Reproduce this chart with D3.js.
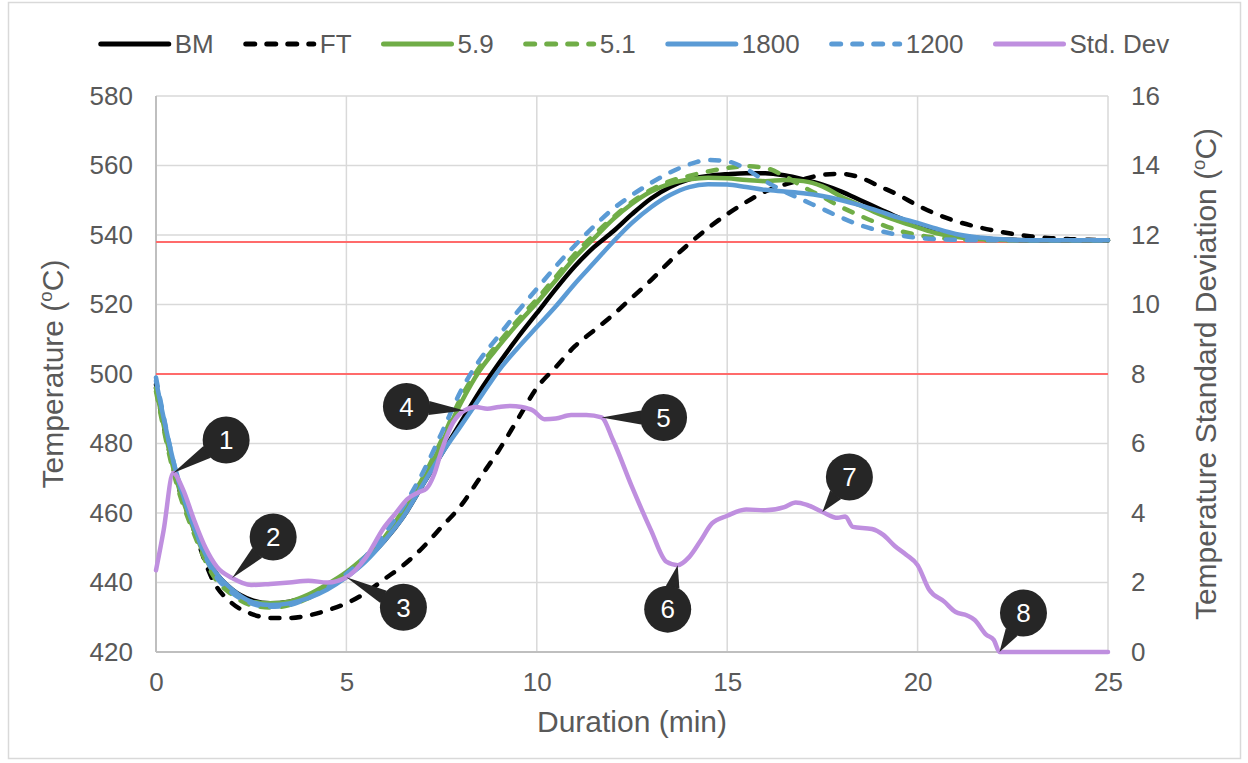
<!DOCTYPE html>
<html>
<head>
<meta charset="utf-8">
<script src="https://cdn.jsdelivr.net/npm/d3@7"></script>
<style>
    body { margin: 0; background: #fff; }
    svg text { font-family: "Liberation Sans", Arial, sans-serif; fill: #595959; }
</style>
</head>
<body>
<div id="chart"></div>
<script>
// time axis (min) shared by the temperature series
var minutes = d3.range(0, 25.01, 0.5);

var bmTemp = [497, 472, 456, 444, 438, 435, 434, 434.5, 436, 438.5, 442, 446.5, 452, 459, 468, 477, 486, 495,
    503, 510.5, 517.5, 524.5, 531, 536.5, 541, 546, 550.5, 553.8, 556, 557, 557.5, 557.8, 557.8, 557.2, 556, 554.5,
    552.5, 550, 547.5, 545, 542.8, 541, 540, 539.2, 538.8, 538.6, 538.5, 538.5, 538.5, 538.5, 538.5];
var ftTemp = [496, 471, 455, 440.5, 434, 431, 429.8, 429.8, 430.5, 432, 434, 437, 441, 445, 450, 456, 462, 470,
    478, 487, 496, 502, 508, 512.5, 517, 522, 527, 532.5, 537.5, 542, 546, 549.5, 552.5, 554.5, 556, 557.3,
    557.6, 556.5, 554, 551.5, 548.5, 546, 544, 542.5, 541.3, 540.3, 539.6, 539.1, 538.8, 538.6, 538.5];
var temp59 = [496, 471, 455, 443, 437.5, 434.5, 434, 434.5, 436.5, 439.5, 443, 447.5, 452.5, 460, 469, 480, 491.5,
    501, 508, 514.5, 520.5, 527, 533.5, 539, 544.5, 549, 552.5, 554.8, 556, 556.5, 556.3, 555.8, 555.5, 555.8,
    555.5, 554, 551, 548.5, 546, 544, 542.2, 540.5, 539.5, 538.9, 538.6, 538.5, 538.5, 538.5, 538.5, 538.5, 538.5];
var temp51 = [495, 470, 454, 442, 436.5, 433.5, 432.8, 433.5, 435.5, 438.5, 442, 447, 453, 461, 470, 481, 493, 502,
    509, 515.5, 521.5, 528, 534.5, 540, 545, 549.5, 553, 555.5, 557, 558.3, 559.3, 559.8, 559.3, 557, 553.8, 551,
    548, 545.5, 543.2, 541.3, 540, 539.2, 538.8, 538.6, 538.5, 538.5, 538.5, 538.5, 538.5, 538.5, 538.5];
var temp1800 = [498, 473, 456, 444, 438, 434.5, 433.5, 434, 435.5, 438, 441.5, 446, 452, 459, 468, 477, 485, 493,
    501, 507.5, 513.5, 519.5, 526, 532, 538, 543.5, 548, 551.5, 553.8, 554.6, 554.5, 553.8, 553, 552.5, 552,
    551.2, 550, 548.5, 546.8, 545, 543.5, 541.8, 540.3, 539.4, 538.9, 538.6, 538.5, 538.5, 538.5, 538.5, 538.5];
var temp1200 = [499, 473, 456, 443, 437, 434, 433, 433.5, 435.5, 438.5, 442.5, 447.5, 454, 462, 471.5, 483, 495, 504,
    511, 518, 524.5, 531, 537, 542.5, 547.5, 551.5, 555, 558, 560.3, 561.6, 561.2, 559, 555.5, 552.5, 550, 547.5,
    545, 542.8, 541.2, 540, 539.2, 538.8, 538.6, 538.5, 538.5, 538.5, 538.5, 538.5, 538.5, 538.5, 538.5];

// standard deviation has its own, finer time base
var stdMinutes = [0, 0.2, 0.45, 0.7, 1.0, 1.3, 1.6, 2.0, 2.5, 3.0, 3.5, 4.0, 4.5, 5.0, 5.5, 6.0, 6.3, 6.6, 6.9, 7.1,
    7.3, 7.5, 7.8, 8.1, 8.4, 8.7, 9.0, 9.3, 9.6, 9.9, 10.2, 10.5, 10.9, 11.3, 11.7, 12.0, 12.5, 13.0, 13.4, 13.7,
    14.0, 14.3, 14.6, 15.0, 15.5, 16.0, 16.5, 16.8, 17.1, 17.5, 17.9, 18.1, 18.3, 18.8, 19.1, 19.4, 19.7, 20.0,
    20.3, 20.7, 21.0, 21.3, 21.5, 21.8, 22.0, 22.15, 25];
var stdDev = [2.35, 3.5, 5.15, 4.7, 3.8, 3.0, 2.45, 2.13, 1.93, 1.96, 2.0, 2.05, 2.0, 2.15, 2.7, 3.6, 4.0, 4.4, 4.6,
    4.7, 5.1, 5.8, 6.6, 6.95, 7.05, 7.0, 7.05, 7.08, 7.05, 6.95, 6.7, 6.72, 6.82, 6.82, 6.75, 6.1, 4.75, 3.5, 2.6,
    2.5, 2.73, 3.2, 3.7, 3.92, 4.1, 4.08, 4.17, 4.3, 4.23, 4.03, 3.86, 3.9, 3.6, 3.54, 3.37, 3.05, 2.8, 2.5, 1.8,
    1.45, 1.15, 1.05, 0.92, 0.5, 0.35, 0, 0];

var seriesNames = ["BM", "FT", "5.9", "5.1", "1800", "1200", "Std. Dev"];
var limitLines = [500, 538];

var xTicks = [0, 5, 10, 15, 20, 25];
var yTicks = d3.range(420, 581, 20);
var y2Ticks = d3.range(0, 17, 2);

// numbered callouts on the std dev curve
var calloutLabels = ["1", "2", "3", "4", "5", "6", "7", "8"];
var calloutMinutes = [0.45, 2.0, 5.0, 8.1, 11.7, 13.7, 17.5, 22.15];

var width = 1248, height = 763;
var plot = {left: 156, right: 1108, top: 96, bottom: 652};

var svg = d3.select("#chart").append("svg")
    .attr("width", width)
    .attr("height", height);

// chart area border
svg.append("rect")
    .attr("x", 8.5).attr("y", 2.5)
    .attr("width", 1232).attr("height", 756)
    .attr("fill", "none")
    .attr("stroke", "#d9d9d9")
    .attr("stroke-width", 1.5);

var x = d3.scaleLinear().domain([0, 25]).range([plot.left, plot.right]);
var y = d3.scaleLinear().domain([420, 580]).range([plot.bottom, plot.top]);
var y2 = d3.scaleLinear().domain([0, 16]).range([plot.bottom, plot.top]);

// gridlines
svg.append("g").selectAll("line").data(yTicks).enter().append("line")
    .attr("x1", plot.left).attr("x2", plot.right)
    .attr("y1", function(d) { return y(d); })
    .attr("y2", function(d) { return y(d); })
    .attr("stroke", "#d9d9d9")
    .attr("stroke-width", 1.5);

svg.append("g").selectAll("line").data(xTicks.slice(1)).enter().append("line")
    .attr("x1", function(d) { return x(d); })
    .attr("x2", function(d) { return x(d); })
    .attr("y1", plot.top).attr("y2", plot.bottom)
    .attr("stroke", "#d9d9d9")
    .attr("stroke-width", 1.5);

// axis lines
svg.append("line")
    .attr("x1", plot.left).attr("x2", plot.right)
    .attr("y1", plot.bottom).attr("y2", plot.bottom)
    .attr("stroke", "#bfbfbf").attr("stroke-width", 2);
svg.append("line")
    .attr("x1", plot.left).attr("x2", plot.left)
    .attr("y1", plot.top).attr("y2", plot.bottom)
    .attr("stroke", "#bfbfbf").attr("stroke-width", 2);

// axes (labels only, like the Excel original)
var tickFont = 26;

var xAxis = svg.append("g")
    .attr("transform", "translate(0," + plot.bottom + ")")
    .call(d3.axisBottom(x).tickValues(xTicks).tickSize(0).tickPadding(21).tickFormat(d3.format("d")));
var yAxis = svg.append("g")
    .attr("transform", "translate(" + plot.left + ",0)")
    .call(d3.axisLeft(y).tickValues(yTicks).tickSize(0).tickPadding(23).tickFormat(d3.format("d")));
var y2Axis = svg.append("g")
    .attr("transform", "translate(" + plot.right + ",0)")
    .call(d3.axisRight(y2).tickValues(y2Ticks).tickSize(0).tickPadding(23).tickFormat(d3.format("d")));

[xAxis, yAxis, y2Axis].forEach(function(ax) {
    ax.select(".domain").remove();
    ax.selectAll("text")
        .attr("font-size", tickFont)
        .attr("font-family", "Liberation Sans, Arial, sans-serif")
        .attr("fill", "#595959");
});

// limit lines
svg.append("g").selectAll("line").data(limitLines).enter().append("line")
    .attr("x1", plot.left).attr("x2", plot.right)
    .attr("y1", function(d) { return y(d); })
    .attr("y2", function(d) { return y(d); })
    .attr("stroke", "#ff6b6b")
    .attr("stroke-width", 2);

// temperature series
var dashed = "9,12";
var tempSeries = [
    {name: seriesNames[0], values: bmTemp, color: "#000000", dash: null},
    {name: seriesNames[1], values: ftTemp, color: "#000000", dash: dashed},
    {name: seriesNames[2], values: temp59, color: "#70ad47", dash: null},
    {name: seriesNames[3], values: temp51, color: "#70ad47", dash: dashed},
    {name: seriesNames[4], values: temp1800, color: "#5b9bd5", dash: null},
    {name: seriesNames[5], values: temp1200, color: "#5b9bd5", dash: dashed}
];

var tempLine = d3.line()
    .x(function(d) { return x(d[0]); })
    .y(function(d) { return y(d[1]); })
    .curve(d3.curveMonotoneX);

svg.append("g").selectAll("path").data(tempSeries).enter().append("path")
    .attr("d", function(s) {
        return tempLine(minutes.map(function(t, i) { return [t, s.values[i]]; }));
    })
    .attr("fill", "none")
    .attr("stroke", function(s) { return s.color; })
    .attr("stroke-width", 4.5)
    .attr("stroke-linecap", "round")
    .attr("stroke-dasharray", function(s) { return s.dash; });

// std dev on secondary axis
var stdColor = "#bf8fdf";
var stdLine = d3.line()
    .x(function(d) { return x(d[0]); })
    .y(function(d) { return y2(d[1]); })
    .curve(d3.curveMonotoneX);

svg.append("path")
    .attr("d", stdLine(stdMinutes.map(function(t, i) { return [t, stdDev[i]]; })))
    .attr("fill", "none")
    .attr("stroke", stdColor)
    .attr("stroke-width", 4.5)
    .attr("stroke-linejoin", "round")
    .attr("stroke-linecap", "round");

// callouts
var stdAt = d3.scaleLinear().domain(stdMinutes).range(stdDev);
var calloutOffset = [[53, -33], [41, -41], [57, 30], [-58, -4], [62, 0], [-10, 44], [27, -35], [24, -39]];
var r = 23.5;

var callouts = svg.append("g").selectAll("g").data(calloutLabels).enter().append("g");

callouts.each(function(label, i) {
    var g = d3.select(this);
    var tx = x(calloutMinutes[i]), ty = y2(stdAt(calloutMinutes[i]));
    var cx = tx + calloutOffset[i][0], cy = ty + calloutOffset[i][1];
    var a = Math.atan2(ty - cy, tx - cx);
    var spread = 0.3;
    var p1 = [cx + r * Math.cos(a - spread), cy + r * Math.sin(a - spread)];
    var p2 = [cx + r * Math.cos(a + spread), cy + r * Math.sin(a + spread)];

    g.append("path")
        .attr("d", "M" + p1 + "L" + tx + "," + ty + "L" + p2 + "Z")
        .attr("fill", "#262626");
    g.append("circle")
        .attr("cx", cx).attr("cy", cy).attr("r", r)
        .attr("fill", "#262626");
    g.append("text")
        .attr("x", cx).attr("y", cy)
        .attr("dy", "0.36em")
        .attr("text-anchor", "middle")
        .attr("font-size", 26)
        .style("fill", "#ffffff")
        .text(label);
});

// axis titles
var titleFont = 30;

svg.append("text")
    .attr("x", (plot.left + plot.right) / 2)
    .attr("y", 732)
    .attr("text-anchor", "middle")
    .attr("font-size", titleFont)
    .text("Duration (min)");

function degTitle(sel, before) {
    sel.append("tspan").text(before + " (");
    sel.append("tspan").attr("font-size", titleFont * 0.62).attr("dy", -11).text("o");
    sel.append("tspan").attr("dy", 11).text("C)");
}

svg.append("text")
    .attr("transform", "translate(52," + (plot.top + plot.bottom) / 2 + ") rotate(-90)")
    .attr("dy", "0.35em")
    .attr("text-anchor", "middle")
    .attr("font-size", titleFont)
    .call(degTitle, "Temperature");

svg.append("text")
    .attr("transform", "translate(1205," + (plot.top + plot.bottom) / 2 + ") rotate(-90)")
    .attr("dy", "0.35em")
    .attr("text-anchor", "middle")
    .attr("font-size", titleFont)
    .call(degTitle, "Temperature Standard Deviation");

// legend
var legendItems = tempSeries.concat([{name: seriesNames[6], color: stdColor, dash: null}]);
var legend = svg.append("g");
var lx = 0, swatch = 72, legendY = 44, gap = 30;

legendItems.forEach(function(d) {
    var item = legend.append("g").attr("transform", "translate(" + lx + ",0)");
    item.append("line")
        .attr("x1", 2).attr("x2", swatch - 2)
        .attr("y1", legendY).attr("y2", legendY)
        .attr("stroke", d.color)
        .attr("stroke-width", 5)
        .attr("stroke-linecap", "round")
        .attr("stroke-dasharray", d.dash);
    var t = item.append("text")
        .attr("x", swatch + 4).attr("y", legendY)
        .attr("dy", "0.36em")
        .attr("font-size", 26)
        .text(d.name);
    lx += swatch + 4 + t.node().getComputedTextLength() + gap;
});
lx -= gap;
legend.attr("transform", "translate(" + (634 - lx / 2) + ",0)");
</script>
</body>
</html>
